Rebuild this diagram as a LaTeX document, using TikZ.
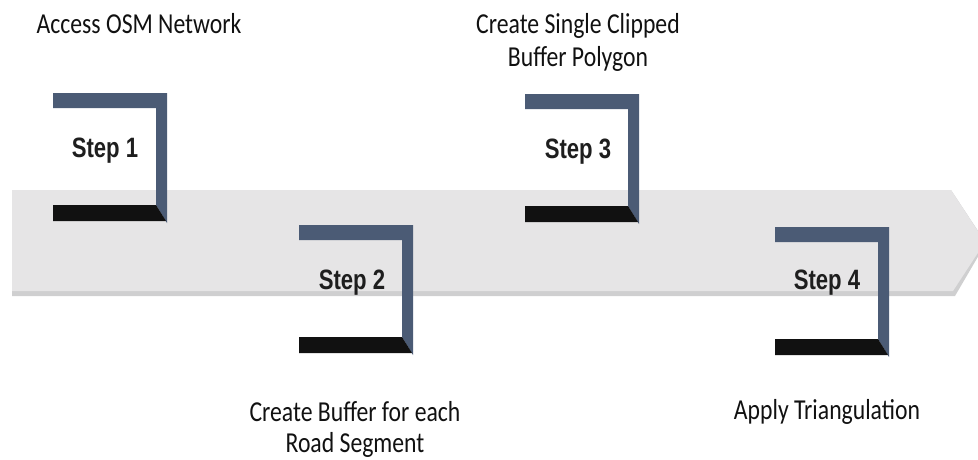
\documentclass[tikz,border=0pt]{standalone}
\usepackage{fontspec}
\setmainfont{Carlito}
\newfontfamily\stepfont{Liberation Sans}
\usepackage{graphicx}
\definecolor{bandgray}{HTML}{E6E5E6}
\definecolor{bandedge}{HTML}{CFCFD0}
\definecolor{slate}{HTML}{4B5B75}
\definecolor{barblack}{HTML}{111111}
\definecolor{inktext}{HTML}{1E1E1E}
% tall, narrow lettering used for all labels
\newcommand\tall[1]{\scalebox{1}[1.22]{#1}}
\newcommand\narrow[1]{\scalebox{0.79}[1]{#1}}
\tikzset{
  steplabel/.style={font=\stepfont\bfseries\fontsize{28}{28}\selectfont, text=inktext, inner sep=0pt},
  caption/.style={font=\fontsize{23.7}{32}\selectfont, text=barblack, align=center, inner sep=0pt, anchor=base},
}
% L-shaped step bracket with its upper-left corner at (#1,#2)
\newcommand\stepbracket[2]{%
  \begin{scope}[shift={(#1,#2)}]
    \fill[slate] (0,0) -- (114,0) -- (114,130) -- (103,112) -- (103,15) -- (0,15) -- cycle;
    \fill[barblack] (0,112) -- (103,112) -- (113,128) -- (0,128) -- cycle;
  \end{scope}}
\begin{document}
\begin{tikzpicture}[x=1pt,y=-1pt]
  \useasboundingbox (0,0) rectangle (978,459);
  \begin{scope}
    \clip (0,0) rectangle (978,459);
    % process band with arrow head
    \fill[bandedge] (12,190) -- (951,190) -- (986,243) -- (955,296) -- (12,296) -- cycle;
    \fill[bandgray] (12,190) -- (951,190) -- (985,242) -- (953,291) -- (12,291) -- cycle;
  \end{scope}
  % step brackets
  \stepbracket{53}{93}
  \stepbracket{299}{225}
  \stepbracket{525}{94}
  \stepbracket{775}{227}
  % step labels
  \node[steplabel] (s1) at (105,151) {\narrow{Step 1}};
  \node[steplabel] (s2) at (352,283) {\narrow{Step 2}};
  \node[steplabel] (s3) at (578,152) {\narrow{Step 3}};
  \node[steplabel] (s4) at (827,283) {\narrow{Step 4}};
  % descriptions (anchored on the baseline of their last line)
  \node[caption] (c1) at (139,33) {\tall{Access OSM Network}};
  \node[caption, font=\fontsize{23.7}{33.5}\selectfont] (c3) at (578,66.5)
    {\tall{Create Single Clipped}\\\tall{Buffer Polygon}};
  \node[caption, font=\fontsize{23.7}{31}\selectfont] (c2) at (355,452)
    {\tall{Create Buffer for each}\\\tall{Road Segment}};
  \node[caption] (c4) at (827,419) {\tall{Apply Triangulation}};
\end{tikzpicture}
\end{document}
